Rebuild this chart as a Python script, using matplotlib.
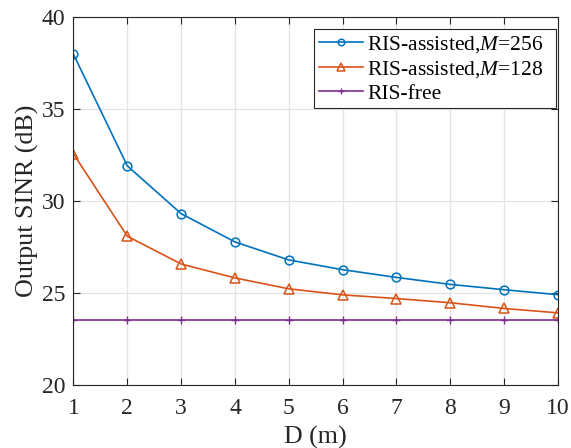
import matplotlib.pyplot as plt

plt.rcParams["font.family"] = ["Liberation Serif", "DejaVu Serif"]
plt.rcParams["mathtext.fontset"] = "custom"
plt.rcParams["mathtext.it"] = "Liberation Serif:italic"
plt.rcParams["mathtext.rm"] = "Liberation Serif"

distance = [1, 2, 3, 4, 5, 6, 7, 8, 9, 10]
sinr_m256 = [37.97, 31.9, 29.3, 27.76, 26.78, 26.25, 25.83, 25.45, 25.16, 24.89]
sinr_m128 = [32.55, 28.07, 26.56, 25.8, 25.21, 24.88, 24.68, 24.45, 24.14, 23.9]
sinr_free = [23.5] * 10

fig = plt.figure(figsize=(5.71, 4.48), dpi=100)
ax = fig.add_axes([0.1287, 0.1417, 0.8483, 0.8203])

ax.plot(distance, sinr_m256, color="#0072BD", lw=1.2, marker="o", ms=6.3,
        mfc="none", mew=1.1, label="RIS-assisted,$M$=256")
ax.plot(distance, sinr_m128, color="#D95319", lw=1.2, marker="^", ms=7.5,
        mfc="none", mew=1.1, label="RIS-assisted,$M$=128")
ax.plot(distance, sinr_free, color="#7E2F8E", lw=1.2, marker="+", ms=5.5,
        mew=1.0, label="RIS-free")

ax.set_xlim(1, 10)
ax.set_ylim(20, 40)
ax.set_xticks(range(1, 11))
ax.set_yticks([20, 25, 30, 35, 40])
ax.grid(True, color="#e3e3e3", lw=0.9)
ax.set_axisbelow(True)
ax.tick_params(direction="in", top=True, right=True, labelsize=17,
               length=5, width=0.8, color="#262626", labelcolor="#262626")
ax.tick_params(axis="x", pad=10)
ax.tick_params(axis="y", pad=6)
for s in ax.spines.values():
    s.set_color("#262626")
    s.set_linewidth(0.8)

ax.set_xlabel("D (m)", fontsize=18.7, color="#262626", labelpad=5)
ax.set_ylabel("Output SINR (dB)", fontsize=18.7, color="#262626", labelpad=2)

# legend box spans a fixed region of the upper right corner
leg = ax.legend(loc="upper left", bbox_to_anchor=(0.4965, 0.7525, 0.4995, 0.214),
                mode="expand", fontsize=15.5, fancybox=False,
                edgecolor="#262626", framealpha=1, borderpad=0.22,
                handlelength=2.05, handletextpad=0.2, labelspacing=0.18,
                borderaxespad=0, markerscale=0.75)
leg.get_frame().set_linewidth(0.8)

fig.savefig("out.png", dpi=100)
